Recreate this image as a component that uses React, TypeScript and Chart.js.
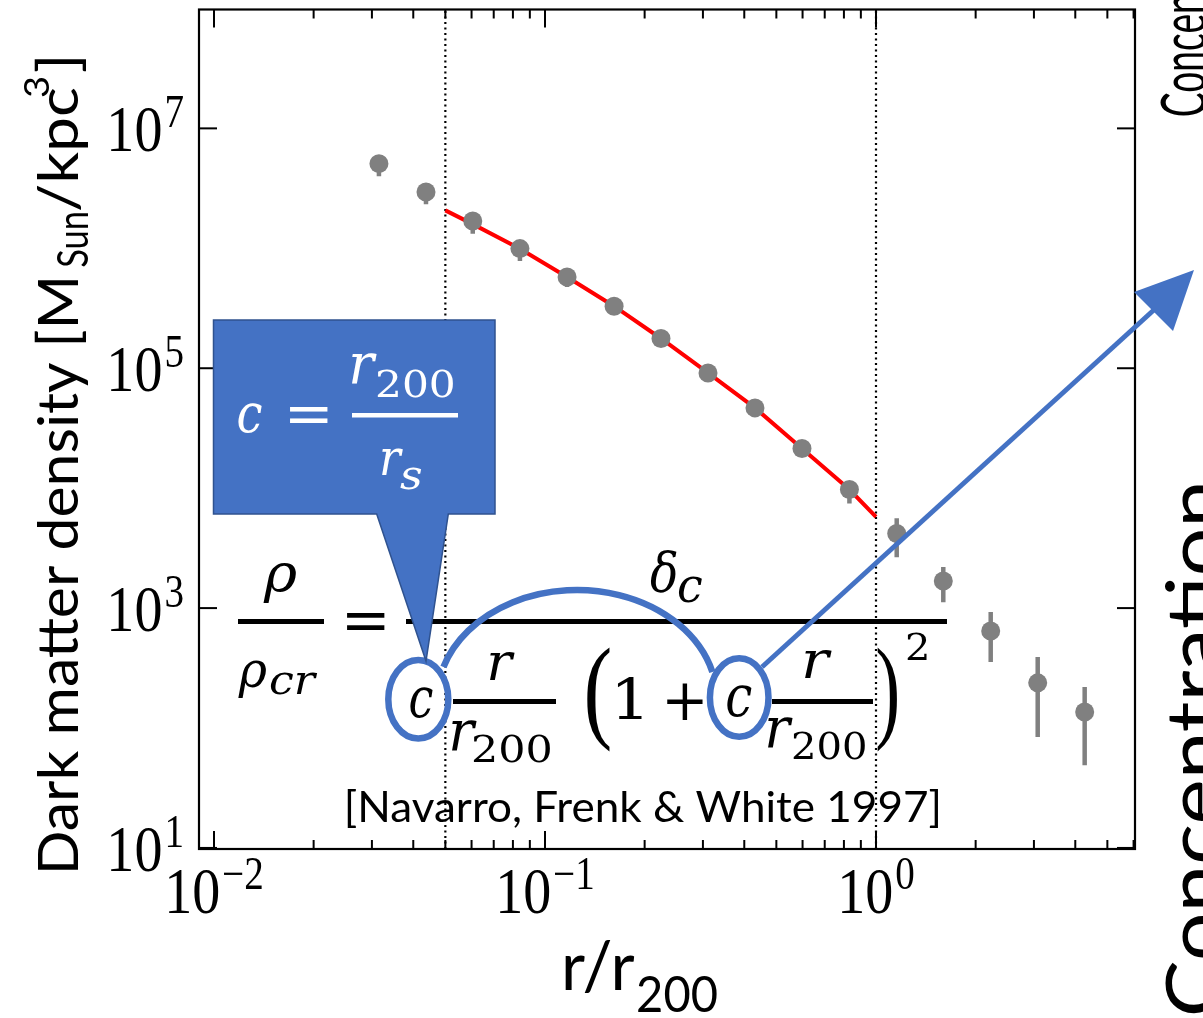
import React, { useEffect, useRef } from "react";
import { Chart, registerables } from "chart.js";

Chart.register(...registerables);

// ---------------- data ----------------
const RADIUS = [0.0315, 0.0437, 0.0605, 0.084, 0.1166, 0.1617, 0.2241, 0.3108, 0.4309, 0.5976, 0.8312, 1.155, 1.597, 2.221, 3.08, 4.27];
const DENSITY = [5.08e6, 2.95e6, 1.69e6, 9.94e5, 5.77e5, 3.29e5, 1.77e5, 9.14e4, 4.67e4, 2.14e4, 9.75e3, 4.19e3, 1.68e3, 643, 238, 136];
const DENSITY_LOW = [3.98e6, 2.33e6, 1.32e6, 7.83e5, 4.76e5, 2.93e5, 1.58e5, 8.26e4, 4.14e4, 1.92e4, 7.45e3, 2.66e3, 1.12e3, 355, 84, 49];
const DENSITY_HIGH = [5.84e6, 3.41e6, 1.92e6, 1.12e6, 6.56e5, 3.69e5, 2.0e5, 1.02e5, 5.31e4, 2.42e4, 1.12e4, 5.62e3, 2.2e3, 926, 391, 220];

const FIT_RADIUS = [0.05, 0.0605, 0.084, 0.1166, 0.1617, 0.2241, 0.3108, 0.4309, 0.5976, 0.8312, 1.0];
const FIT_DENSITY = [2.07e6, 1.59e6, 9.9e5, 5.77e5, 3.29e5, 1.77e5, 9.14e4, 4.67e4, 2.14e4, 9.75e3, 5.77e3];

const FIT_LIMITS = [0.05, 1];

const X_MIN = 0.00901;
const X_MAX = 6.06;
const Y_MIN = 9.8;
const Y_MAX = 9.8e7;

const X_MAJOR_TICKS = [0.01, 0.1, 1];
const X_TICK_EXPONENTS = ["\u22122", "\u22121", "0"];
const Y_MAJOR_TICKS = [1e1, 1e3, 1e5, 1e7];
const Y_TICK_EXPONENTS = ["1", "3", "5", "7"];

const X_TITLE = "r/r";
const X_TITLE_SUB = "200";
const Y_TITLE = ["Dark matter density [M", "Sun", "/kpc", "3", "]"];
const CITATION = "[Navarro, Frenk & White 1997]";
const SIDE_TEXT = "Concentration";

const BLUE = "#4472C4";
const BLUE_EDGE = "#2F528F";

// ---------------- text helpers ----------------
function fitBox(ctx: any, text: string, font: string, x0: number, y0: number, x1: number, y1: number, color: string) {
  ctx.save();
  ctx.font = font;
  ctx.textAlign = "left";
  ctx.textBaseline = "alphabetic";
  const m = ctx.measureText(text);
  const w = m.actualBoundingBoxLeft + m.actualBoundingBoxRight;
  const h = m.actualBoundingBoxAscent + m.actualBoundingBoxDescent;
  ctx.translate(x0, y0);
  ctx.scale((x1 - x0) / w, (y1 - y0) / h);
  ctx.fillStyle = color;
  ctx.fillText(text, m.actualBoundingBoxLeft, m.actualBoundingBoxAscent);
  ctx.restore();
}

function fitWidth(ctx: any, text: string, font: string, x0: number, x1: number, baseline: number, color: string) {
  ctx.save();
  ctx.font = font;
  ctx.textAlign = "left";
  ctx.textBaseline = "alphabetic";
  const m = ctx.measureText(text);
  const w = m.actualBoundingBoxLeft + m.actualBoundingBoxRight;
  ctx.translate(x0, baseline);
  ctx.scale((x1 - x0) / w, 1);
  ctx.fillStyle = color;
  ctx.fillText(text, m.actualBoundingBoxLeft, 0);
  ctx.restore();
}

const TICK_FONT = '66px "Liberation Serif"';
const TICK_SUP_FONT = '46px "Liberation Serif"';
const TICK_SX = 0.85;

function powerLabel(ctx: any, exp: string, anchorX: number, baseline: number, align: "center" | "right") {
  ctx.save();
  ctx.fillStyle = "#000";
  ctx.textAlign = "left";
  ctx.textBaseline = "alphabetic";
  ctx.font = TICK_FONT;
  const w10 = ctx.measureText("10").width * TICK_SX;
  ctx.font = TICK_SUP_FONT;
  const wSup = ctx.measureText(exp).width * TICK_SX;
  const gap = 2;
  const total = w10 + gap + wSup;
  const left = align === "center" ? anchorX - total / 2 : anchorX - total;
  ctx.save();
  ctx.translate(left, baseline);
  ctx.scale(TICK_SX, 1);
  ctx.font = TICK_FONT;
  ctx.fillText("10", 0, 0);
  ctx.restore();
  ctx.save();
  ctx.translate(left + w10 + gap, baseline - 24);
  ctx.scale(TICK_SX, 1);
  ctx.font = TICK_SUP_FONT;
  ctx.fillText(exp, 0, 0);
  ctx.restore();
  ctx.restore();
}

// ---------------- plugin ----------------
const decorations = {
  id: "decorations",
  beforeDatasetsDraw(chart: any) {
    const ctx = chart.ctx;
    const xs = chart.scales.x;
    const ys = chart.scales.y;
    const a = chart.chartArea;
    ctx.save();
    ctx.beginPath();
    ctx.rect(a.left, a.top, a.right - a.left, a.bottom - a.top);
    ctx.clip();
    ctx.strokeStyle = "#808080";
    ctx.lineWidth = 4.5;
    ctx.lineCap = "butt";
    for (let i = 0; i < RADIUS.length; i++) {
      const px = xs.getPixelForValue(RADIUS[i]);
      ctx.beginPath();
      ctx.moveTo(px, ys.getPixelForValue(DENSITY_LOW[i]));
      ctx.lineTo(px, ys.getPixelForValue(DENSITY_HIGH[i]));
      ctx.stroke();
    }
    ctx.restore();
  },
  afterDraw(chart: any) {
    const ctx = chart.ctx;
    const xs = chart.scales.x;
    const ys = chart.scales.y;
    const a = chart.chartArea;

    // frame
    ctx.save();
    ctx.strokeStyle = "#000";
    ctx.lineWidth = 2.2;
    ctx.strokeRect(a.left, a.top, a.right - a.left, a.bottom - a.top);

    // ticks (inward on all four sides)
    const xMinor: number[] = [];
    X_MAJOR_TICKS.forEach((d) => {
      for (let k = 2; k <= 9; k++) {
        const v = k * d;
        if (v > X_MIN && v < X_MAX) xMinor.push(v);
      }
    });
    const tick = (x0: number, y0: number, x1: number, y1: number) => {
      ctx.beginPath();
      ctx.moveTo(x0, y0);
      ctx.lineTo(x1, y1);
      ctx.stroke();
    };
    ctx.lineWidth = 2;
    X_MAJOR_TICKS.forEach((v) => {
      const px = xs.getPixelForValue(v);
      tick(px, a.bottom, px, a.bottom - 18);
      tick(px, a.top, px, a.top + 18);
    });
    xMinor.forEach((v) => {
      const px = xs.getPixelForValue(v);
      tick(px, a.bottom, px, a.bottom - 9);
      tick(px, a.top, px, a.top + 9);
    });
    Y_MAJOR_TICKS.forEach((v) => {
      const py = ys.getPixelForValue(v);
      tick(a.left, py, a.left + 18, py);
      tick(a.right, py, a.right - 18, py);
    });
    ctx.restore();

    // tick labels
    X_MAJOR_TICKS.forEach((v, i) => {
      powerLabel(ctx, X_TICK_EXPONENTS[i], xs.getPixelForValue(v), a.bottom + 64, "center");
    });
    Y_MAJOR_TICKS.forEach((v, i) => {
      powerLabel(ctx, Y_TICK_EXPONENTS[i], a.left - 15, ys.getPixelForValue(v) + 23, "right");
    });

    // axis titles
    fitWidth(ctx, X_TITLE, '68px Lato', 565, 635, 990, "#000");
    fitWidth(ctx, X_TITLE_SUB, '50px Lato', 638, 717, 1012, "#000");

    ctx.save();
    ctx.translate(78, 870);
    ctx.rotate(-Math.PI / 2);
    fitWidth(ctx, Y_TITLE[0], '56px Lato', 0, 590, 0, "#000");
    fitWidth(ctx, Y_TITLE[1], '42px Lato', 603, 657, 10, "#000");
    fitWidth(ctx, Y_TITLE[2], '56px Lato', 659, 782, 0, "#000");
    fitWidth(ctx, Y_TITLE[3], '34px Lato', 773, 792, -29, "#000");
    fitWidth(ctx, Y_TITLE[4], '56px Lato', 798, 812, 0, "#000");
    ctx.restore();

    // neighbouring panel labels (cut by the picture edge)
    ctx.save();
    ctx.translate(1206, 116);
    ctx.rotate(-Math.PI / 2);
    ctx.font = '62px Lato';
    ctx.fillStyle = "#000";
    const mFull = ctx.measureText(SIDE_TEXT);
    const mPart = ctx.measureText(SIDE_TEXT.slice(0, 6));
    const sq = 124 / mPart.width;
    ctx.scale(sq, 1);
    ctx.fillText(SIDE_TEXT, mFull.actualBoundingBoxLeft, 0);
    ctx.restore();
    ctx.save();
    ctx.translate(1222, 1014);
    ctx.rotate(-Math.PI / 2);
    fitWidth(ctx, SIDE_TEXT, '78px Lato', 0, 529, 0, "#000");
    ctx.restore();

    // citation
    fitWidth(ctx, CITATION, '42px Lato', 347, 939, 822, "#000");

    // ---------- NFW formula ----------
    const K = "#000";
    const IT = 'italic 58px "DejaVu Serif"';
    const IT_S = 'italic 44px "DejaVu Serif"';
    const UP = '58px "DejaVu Serif"';
    const UP_S = '42px "DejaVu Serif"';
    const PAREN = '120px "Liberation Serif"';
    fitBox(ctx, "\u03C1", IT, 263, 563, 297, 603, K);
    ctx.fillStyle = K;
    ctx.fillRect(238, 619, 86, 5);
    fitBox(ctx, "\u03C1", IT, 238, 660, 267, 697, K);
    fitBox(ctx, "cr", IT_S, 270, 672, 318, 695, K);
    fitBox(ctx, "=", UP, 347, 613, 385, 630, K);
    ctx.fillStyle = K;
    ctx.fillRect(406, 619, 541, 5);
    fitBox(ctx, "\u03B4", IT, 650, 550, 677, 592, K);
    fitBox(ctx, "c", IT_S, 678, 575, 702, 603, K);
    fitBox(ctx, "c", IT, 410, 687, 433, 718, K);
    fitBox(ctx, "r", IT, 490, 652, 515, 680, K);
    ctx.fillStyle = K;
    ctx.fillRect(453, 699, 103, 5);
    fitBox(ctx, "r", IT, 452, 720, 477, 750, K);
    fitBox(ctx, "200", UP_S, 473, 733, 550, 763, K);
    fitBox(ctx, "(", PAREN, 587, 648, 610, 752, K);
    fitBox(ctx, "1", UP, 618, 678, 642, 720, K);
    fitBox(ctx, "+", UP, 667, 683, 703, 720, K);
    fitBox(ctx, "c", IT, 727, 685, 752, 717, K);
    fitBox(ctx, "r", IT, 805, 650, 832, 678, K);
    ctx.fillStyle = K;
    ctx.fillRect(772, 699, 101, 5);
    fitBox(ctx, "r", IT, 768, 717, 793, 747, K);
    fitBox(ctx, "200", UP_S, 793, 730, 865, 760, K);
    fitBox(ctx, ")", PAREN, 877, 648, 897, 752, K);
    fitBox(ctx, "2", UP_S, 907, 632, 927, 660, K);

    // ---------- blue annotations ----------
    ctx.save();
    ctx.strokeStyle = BLUE;
    ctx.lineWidth = 6.5;
    ctx.beginPath();
    ctx.ellipse(418.3, 699.2, 30, 39.3, 0, 0, Math.PI * 2);
    ctx.stroke();
    ctx.beginPath();
    ctx.ellipse(739.2, 697.5, 29.3, 39.3, 0, 0, Math.PI * 2);
    ctx.stroke();
    ctx.beginPath();
    ctx.ellipse(577, 700, 140, 110, 0, 3.447, 6.026);
    ctx.stroke();
    // arrow
    ctx.lineWidth = 5;
    ctx.lineCap = "butt";
    ctx.beginPath();
    ctx.moveTo(762, 667);
    ctx.lineTo(1156, 308);
    ctx.stroke();
    ctx.fillStyle = BLUE;
    ctx.beginPath();
    ctx.moveTo(1194, 270);
    ctx.lineTo(1134, 292);
    ctx.lineTo(1173, 331);
    ctx.closePath();
    ctx.fill();

    // callout
    ctx.beginPath();
    ctx.moveTo(213.5, 320);
    ctx.lineTo(495, 320);
    ctx.lineTo(495, 514);
    ctx.lineTo(448.3, 514);
    ctx.lineTo(426, 661);
    ctx.lineTo(376.7, 514);
    ctx.lineTo(213.5, 514);
    ctx.closePath();
    ctx.fillStyle = BLUE;
    ctx.fill();
    ctx.strokeStyle = BLUE_EDGE;
    ctx.lineWidth = 1.5;
    ctx.stroke();
    ctx.restore();

    const W = "#fff";
    fitBox(ctx, "c", IT, 238, 403, 262, 433, W);
    fitBox(ctx, "=", UP, 290, 407, 328, 423, W);
    ctx.fillStyle = W;
    ctx.fillRect(352, 413, 106, 4.5);
    fitBox(ctx, "r", IT, 352, 353, 377, 383, W);
    fitBox(ctx, "200", UP_S, 377, 368, 453, 398, W);
    fitBox(ctx, "r", IT, 382, 448, 403, 475, W);
    fitBox(ctx, "s", IT_S, 400, 467, 422, 490, W);
  },
};

export default function App() {
  const ref = useRef<HTMLCanvasElement>(null);
  useEffect(() => {
    const canvas = ref.current;
    if (!canvas) return;
    const chart = new Chart(canvas, {
      type: "scatter",
      data: {
        datasets: [
          {
            label: "simulation",
            data: RADIUS.map((r, i) => ({ x: r, y: DENSITY[i] })),
            showLine: false,
            pointRadius: 9.5,
            pointBackgroundColor: "#808080",
            pointBorderWidth: 0,
            order: 0,
          } as any,
          {
            label: "NFW fit",
            data: FIT_RADIUS.map((r, i) => ({ x: r, y: FIT_DENSITY[i] })),
            showLine: true,
            borderColor: "#ff0000",
            borderWidth: 4,
            pointRadius: 0,
            order: 1,
          },
          ...FIT_LIMITS.map((v) => ({
            label: "limit",
            data: [
              { x: v, y: Y_MIN },
              { x: v, y: Y_MAX },
            ],
            showLine: true,
            borderColor: "#000",
            borderWidth: 2.2,
            borderDash: [2, 3.5],
            pointRadius: 0,
            order: 2,
          })),
        ],
      },
      options: {
        animation: false,
        responsive: false,
        maintainAspectRatio: false,
        devicePixelRatio: 1,
        events: [],
        layout: { padding: { left: 199, top: 9, right: 68, bottom: 169 } },
        plugins: {
          legend: { display: false },
          tooltip: { enabled: false },
          title: { display: false },
        },
        scales: {
          x: { type: "logarithmic", display: false, min: X_MIN, max: X_MAX, bounds: "data" },
          y: { type: "logarithmic", display: false, min: Y_MIN, max: Y_MAX, bounds: "data" },
        },
      } as any,
      plugins: [decorations as any],
    });
    return () => chart.destroy();
  }, []);
  return (
    <div style={{ position: "fixed", left: 0, top: 0, width: 1203, height: 1018, background: "#fff", overflow: "hidden" }}>
      <canvas ref={ref} width={1203} height={1018} style={{ display: "block", width: 1203, height: 1018 }} />
    </div>
  );
}
